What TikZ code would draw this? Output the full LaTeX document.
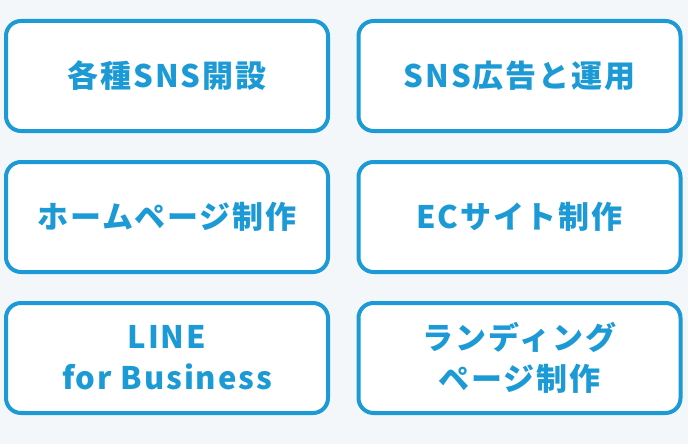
\documentclass[tikz,border=0pt]{standalone}
\usepackage{fontspec}
\usepackage{xcolor}
\newfontfamily\jpfont{Noto Sans CJK JP}[LetterSpace=6]
\definecolor{svcblue}{HTML}{1B9AD6}
\definecolor{svcback}{HTML}{F3F7F9}

\begin{document}
\begin{tikzpicture}[x=1pt, y=1pt, node distance=141pt, auto]

% Hintergrund
\fill[svcback] (0,0) rectangle (688,-444);
\useasboundingbox (0,0) rectangle (688,-444);

% Kachel-Stil
\tikzstyle{service} = [rectangle, rounded corners=15pt, minimum width=322pt, minimum height=110pt, text centered, align=center, draw=svcblue, line width=4pt, fill=white, text=svcblue, font=\jpfont\bfseries\fontsize{31}{41}\selectfont]

% Kacheln
\node (sns) [service] at (167,-76) {各種SNS開設};
\node (homepage) [service, below of=sns] {ホームページ制作};
\node (line) [service, below of=homepage] {LINE\\for Business};
\node (ads) [service, right of=sns, xshift=211.5pt] {SNS広告と運用};
\node (ecsite) [service, below of=ads] {ECサイト制作};
\node (landing) [service, below of=ecsite] {ランディング\\ページ制作};
\end{tikzpicture}
\end{document}
